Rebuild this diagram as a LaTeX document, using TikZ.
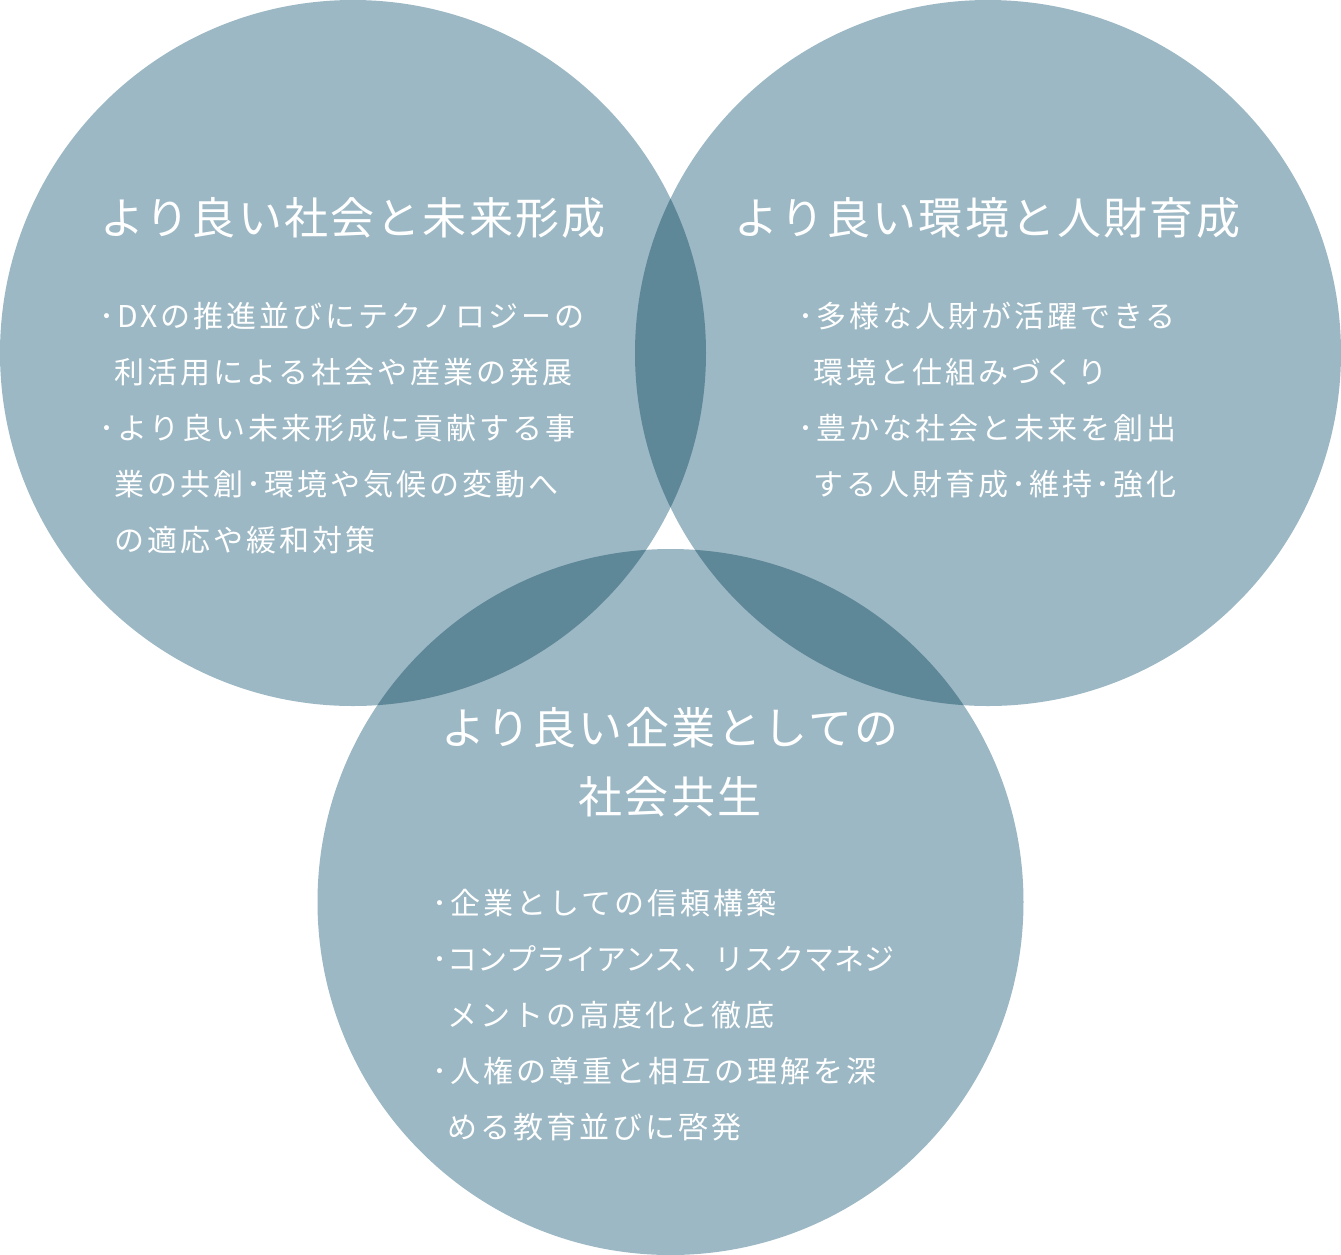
\documentclass[tikz,border=0pt]{standalone}
\usepackage{fontspec}
\setmainfont{Noto Sans CJK JP}
\newfontfamily\headfont[LetterSpace=5]{Noto Sans CJK JP}
\newfontfamily\bodyfont[LetterSpace=10]{Noto Sans CJK JP}
\newfontfamily\kana{Noto Sans CJK JP}
\usetikzlibrary{positioning}
\definecolor{venn}{HTML}{9CB8C4}
\definecolor{vennlap}{HTML}{5E8797}
\tikzset{
  ring/.style={fill=venn},
  lap/.style={fill=vennlap},
  head/.style={text=white, inner sep=0pt, align=center,
    font=\headfont\fontsize{22pt}{34.5pt}\selectfont},
  body/.style={text=white, inner sep=0pt, align=left,
    font=\bodyfont\fontsize{15pt}{28pt}\selectfont}
}
\newcommand\ind{\hphantom{･}}
\def\rad{176.5pt}

\begin{document}
\begin{tikzpicture}[x=0.5pt, y=-0.5pt]
      \useasboundingbox (0,0) rectangle (1341,1255);
      \coordinate (c1) at (353,353);
      \coordinate (c2) at (988,353);
      \coordinate (c3) at (670.5,902);
      \fill[ring] (c1) circle[radius=\rad];
      \fill[ring] (c2) circle[radius=\rad];
      \fill[ring] (c3) circle[radius=\rad];
      \begin{scope}
        \clip (c1) circle[radius=\rad];
        \fill[lap] (c2) circle[radius=\rad];
        \fill[lap] (c3) circle[radius=\rad];
      \end{scope}
      \begin{scope}
        \clip (c2) circle[radius=\rad];
        \fill[lap] (c3) circle[radius=\rad];
      \end{scope}
      \node[head] (h1) at (353,218) {より良い社会と未来形成};
      \node[body, below=31.5pt of h1, xshift=-5.5pt] (b1) {%
        ･DXの推進並びにテクノロジーの\\
        \ind 利活用による社会や産業の発展\\
        ･より良い未来形成に貢献する事\\
        \ind 業の共創･環境や気候の変動へ\\
        \ind の適応や緩和対策};
      \node[head] (h2) at (987.5,218) {より良い環境と人財育成};
      \node[body, below=31.5pt of h2] (b2) {%
        ･多様な人財が活躍できる\\
        \ind 環境と仕組みづくり\\
        ･豊かな社会と未来を創出\\
        \ind する人財育成･維持･強化};
      \node[head] (h3) at (670,762.5) {より良い企業としての\\社会共生};
      \node[body, below=35.5pt of h3, xshift=-3.25pt] (b3) {%
        ･企業としての信頼構築\\
        ･{\kana コンプライアンス、リスクマネジ}\\
        \ind メントの高度化と徹底\\
        ･人権の尊重と相互の理解を深\\
        \ind める教育並びに啓発};
\end{tikzpicture}
\end{document}
